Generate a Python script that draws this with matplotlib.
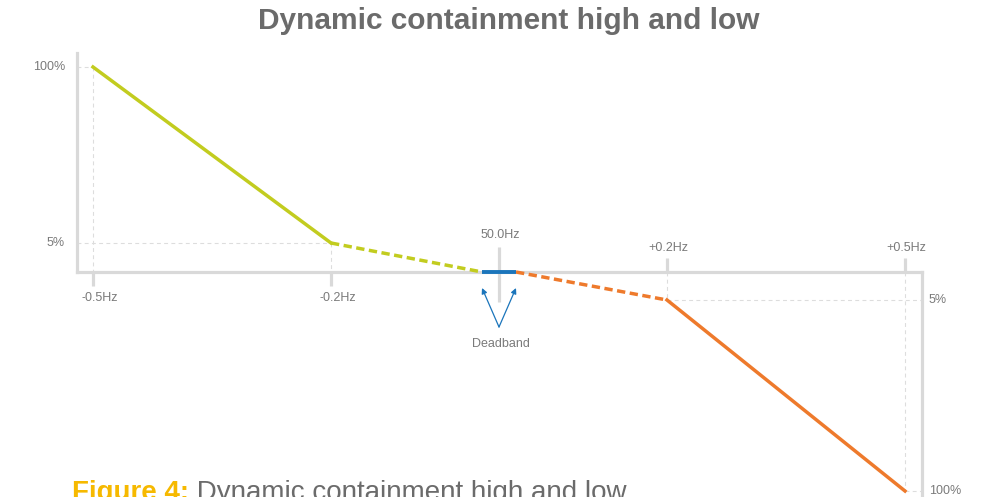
"""Dynamic containment high and low - schematic response chart"""

import numpy as np
import matplotlib
matplotlib.use("Agg")
import matplotlib.pyplot as plt
from matplotlib.transforms import offset_copy

plt.rcParams['font.family'] = ['Liberation Sans', 'DejaVu Sans']

# frequency deviation (Hz) and response (%) for each piece of the curve
low_x = [-0.5, -0.2]
low_y = [100, 5]
low_db_x = [-0.2, -0.015]
low_db_y = [5, 0]
deadband_x = [-0.015, 0.015]
deadband_y = [0, 0]
high_db_x = [0.015, 0.2]
high_db_y = [0, -5]
high_x = [0.2, 0.5]
high_y = [-5, -100]

tick_hz = [-0.5, -0.2, 0.0, 0.2, 0.5]
tick_labels = ["-0.5Hz", "-0.2Hz", "50.0Hz", "+0.2Hz", "+0.5Hz"]

GREEN = "#c2cc1f"
ORANGE = "#ee7a2c"
BLUE = "#1b75bb"
AXIS = "#d9d9d9"
GRID = "#dddddd"
TEXT = "#7a7a7a"

# schematic (non linear) scales: data value -> pixel distance from origin
X_KNOTS = np.array([-2, -0.5, -0.2, -0.015, 0, 0.015, 0.2, 0.5, 2])
X_POS = np.array([-1596, -406, -168, -17, 0, 17, 168, 406, 1596])
Y_KNOTS = np.array([-300, -100, -5, 0, 5, 100, 300])
Y_POS = np.array([-621, -219, -28, 0, 29, 205, 573])


def fx(v):
    return np.interp(v, X_KNOTS, X_POS)


def ix(p):
    return np.interp(p, X_POS, X_KNOTS)


def fy(v):
    return np.interp(v, Y_KNOTS, Y_POS)


def iy(p):
    return np.interp(p, Y_POS, Y_KNOTS)


fig = plt.figure(figsize=(9.83, 4.97), dpi=100)
ax = fig.add_axes([0, 0, 1, 1])
ax.set_xscale('function', functions=(fx, ix))
ax.set_yscale('function', functions=(fy, iy))
ax.set_xlim(float(ix(-499)), float(ix(484)))
ax.set_ylim(float(iy(-225)), float(iy(272)))
ax.set_xticks([])
ax.set_yticks([])

frame_l = float(ix(-422))
frame_r = float(ix(423))
frame_top = float(iy(219))

# frame lines
ax.spines['top'].set_visible(False)
ax.spines['left'].set_position(('data', frame_l))
ax.spines['left'].set_bounds(0, frame_top)
ax.spines['bottom'].set_position(('data', 0))
ax.spines['bottom'].set_bounds(frame_l, frame_r)
ax.spines['right'].set_position(('data', frame_r))
ax.spines['right'].set_bounds(-300, 0)
for s in ['left', 'bottom', 'right']:
    ax.spines[s].set_color(AXIS)
    ax.spines[s].set_linewidth(2.3)

# guide lines
gkw = dict(color=GRID, lw=0.8, ls=(0, (3.5, 3)), zorder=1)
ax.plot([frame_l, low_x[0]], [low_y[0]] * 2, **gkw)
ax.plot([low_x[0]] * 2, [low_y[0], 0], **gkw)
ax.plot([frame_l, low_x[1]], [low_y[1]] * 2, **gkw)
ax.plot([low_x[1]] * 2, [low_y[1], 0], **gkw)
ax.plot([high_x[0], frame_r], [high_y[0]] * 2, **gkw)
ax.plot([high_x[0]] * 2, [0, high_y[0]], **gkw)
ax.plot([high_x[1], frame_r], [high_y[1]] * 2, **gkw)
ax.plot([high_x[1]] * 2, [0, high_y[1]], **gkw)

# tick marks
tkw = dict(color=AXIS, lw=2.3, zorder=2, solid_capstyle='butt')
for x in tick_hz:
    if x < 0:
        ax.plot([x, x], [0, iy(-14)], **tkw)
    elif x > 0:
        ax.plot([x, x], [0, iy(14)], **tkw)
    else:
        ax.plot([x, x], [iy(-30), iy(25)], **tkw)

for x, lab in zip(tick_hz, tick_labels):
    if x < 0:
        off = (7, -26)
    elif x > 0:
        off = (1, 24)
    else:
        off = (1, 37)
    ax.annotate(lab, xy=(x, 0), xytext=off, textcoords='offset pixels',
                ha='center', va='center', fontsize=9, color=TEXT)

# response curves
ax.plot(low_x, low_y, color=GREEN, lw=2.5, zorder=3)
ax.plot(low_db_x, low_db_y, color=GREEN, lw=2.5, ls=(0, (2.4, 1.3)), zorder=3)
ax.plot(high_db_x, high_db_y, color=ORANGE, lw=2.5, ls=(0, (2.4, 1.3)), zorder=3)
ax.plot(high_x, high_y, color=ORANGE, lw=2.5, zorder=3)
ax.plot(deadband_x, deadband_y, color=BLUE, lw=2.8, zorder=4, solid_capstyle='butt')

# y labels
for y, lab in [(100, "100%"), (5, "5%")]:
    ax.annotate(lab, xy=(frame_l, y), xytext=(-12, 0), textcoords='offset pixels',
                ha='right', va='center', fontsize=9, color=TEXT)
for y, lab in [(-5, "5%"), (-100, "100%")]:
    ax.annotate(lab, xy=(frame_r, y), xytext=(7, 0), textcoords='offset pixels',
                ha='left', va='center', fontsize=9, color=TEXT)

# deadband arrows
tip = offset_copy(ax.transData, fig=fig, y=-16, units='dots')
tail = offset_copy(ax.transData, fig=fig, y=-55, units='dots')
for x in deadband_x:
    ax.annotate("", xy=(x, 0), xycoords=tip, xytext=(0, 0), textcoords=tail,
                arrowprops=dict(arrowstyle='-|>', color=BLUE, lw=0.9,
                                mutation_scale=8, shrinkA=0, shrinkB=0))
ax.annotate("Deadband", xy=(0, 0), xytext=(2, -72), textcoords='offset pixels',
            ha='center', va='center', fontsize=9, color=TEXT)

fig.text(509 / 983, 1 - 21 / 497, "Dynamic containment high and low",
         ha='center', va='center', fontsize=21.5, fontweight='bold', color="#6b6b6b")

cap = fig.text(72 / 983, 1 - 480 / 497, "Figure 4:", ha='left', va='top',
               fontsize=20, fontweight='bold', color="#f6b900")
ax.annotate(" Dynamic containment high and low", xy=(1, 0), xycoords=cap,
            ha='left', va='bottom', fontsize=20, color="#6b6b6b")

plt.savefig("out.png", dpi=100)
